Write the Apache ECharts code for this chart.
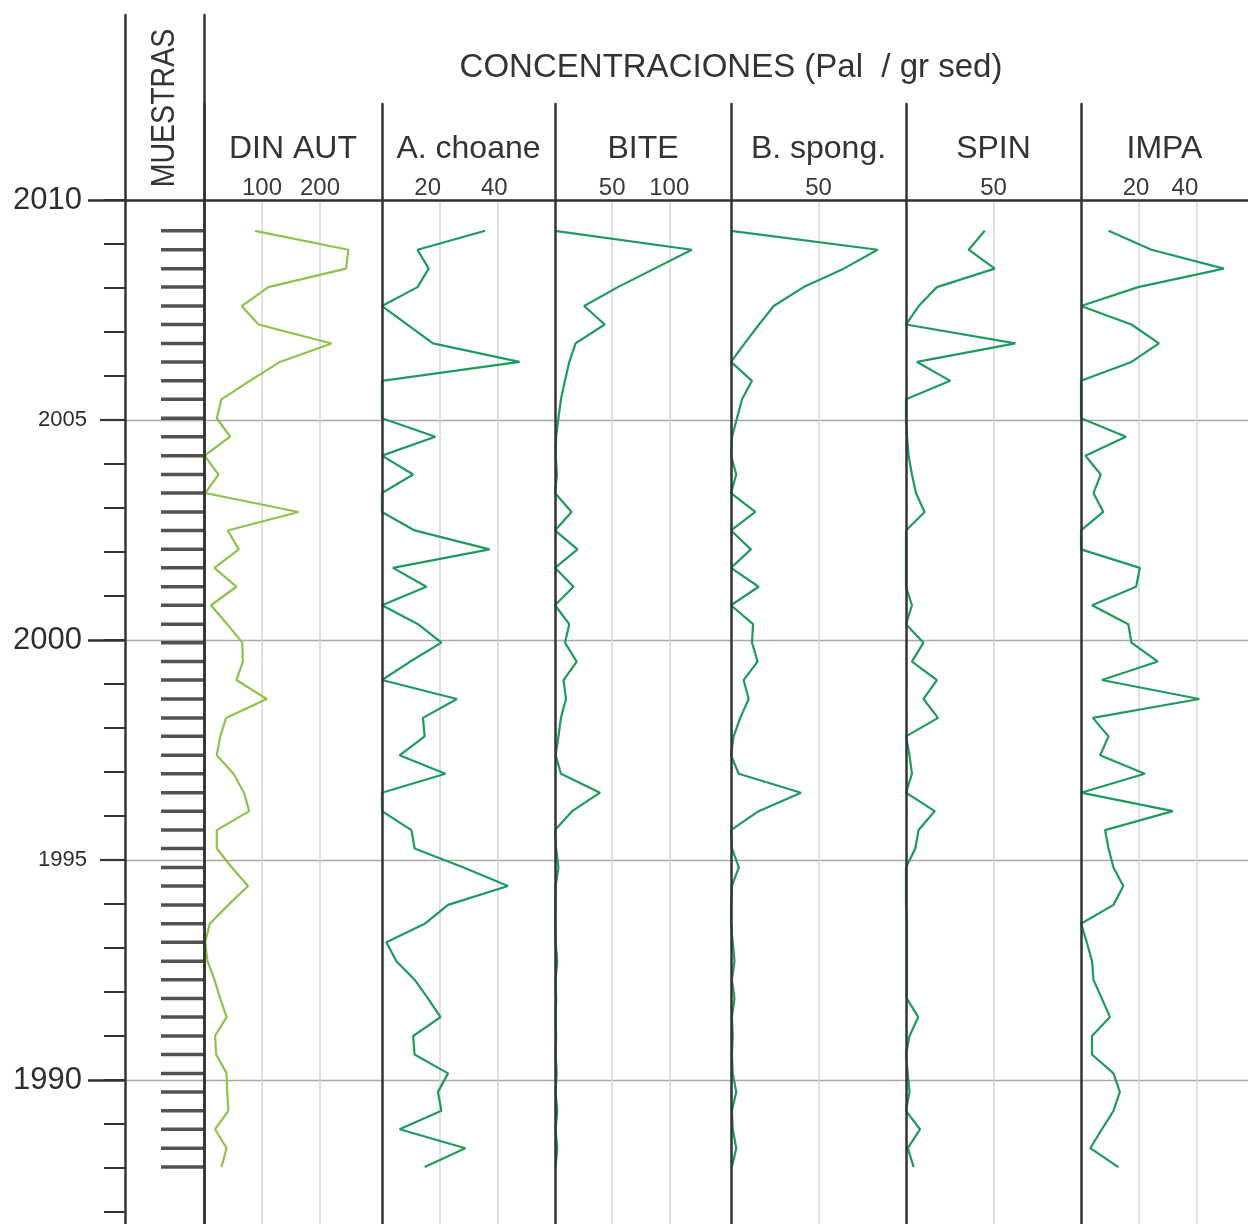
<!DOCTYPE html>
<html><head><meta charset="utf-8">
<script src="https://cdn.jsdelivr.net/npm/echarts@6/dist/echarts.min.js"></script>
<style>html,body{margin:0;padding:0;background:#fff}#c{width:1248px;height:1224px}</style>
</head><body><div id="c"></div>
<script>
// ---- data ----
const sampleYears = [2009.30, 2008.87, 2008.44, 2008.02, 2007.59, 2007.17, 2006.74, 2006.32, 2005.89, 2005.47,
  2005.04, 2004.62, 2004.19, 2003.76, 2003.34, 2002.91, 2002.49, 2002.06, 2001.64, 2001.21,
  2000.79, 2000.36, 1999.94, 1999.51, 1999.09, 1998.66, 1998.23, 1997.81, 1997.38, 1996.96,
  1996.53, 1996.11, 1995.68, 1995.26, 1994.83, 1994.41, 1993.98, 1993.55, 1993.13, 1992.70,
  1992.28, 1991.85, 1991.43, 1991.00, 1990.58, 1990.15, 1989.73, 1989.30, 1988.88, 1988.45,
  1988.02];
const dinAut = [88, 249, 245, 111, 65, 94, 220, 131, 79, 30,
  22, 45, 1, 25, 2, 163, 41, 60, 18, 56,
  12, 40, 66, 67, 56, 108, 38, 28, 22, 51,
  69, 78, 22, 22, 48, 76, 42, 10, 2, 6,
  18, 28, 39, 19, 21, 39, 40, 42, 19, 39,
  30];
const aChoane = [35.8, 12.3, 16.2, 12.3, 0, 8.8, 17.7, 47.7, 0, 0,
  0, 18.5, 0, 10.8, 0, 0, 11.3, 37.3, 3.8, 15.4,
  0, 12.5, 20.6, 9.8, 0, 26, 14.2, 14.8, 6.1, 22,
  0, 0, 10.2, 11.3, 28.3, 43.7, 22.9, 14.8, 1.5, 5,
  11.3, 16, 20.3, 10.8, 11.3, 22.9, 19.4, 20.6, 6.1, 28.9,
  14.8];
const bite = [0, 119.7, 87, 55, 25.5, 43.5, 18, 12.5, 8.7, 5.2,
  3, 1, 0.6, 1.7, 0, 14.5, 0, 19.7, 0, 16.2,
  0, 12.5, 8.7, 19, 7.5, 9.6, 5.2, 3, 0.6, 5.2,
  39.4, 15, 0, 1, 3, 0.5, 0.3, 0, 0.5, 2,
  0.5, 1, 0.5, 1, 0.5, 1.5, 0.5, 2, 0.5, 2,
  0.5];
const bSpong = [0, 83.8, 64.4, 41.5, 24.4, 16, 7.8, 0, 12, 6.3,
  3.4, 0.6, 0, 3, 0, 13.9, 0, 11.4, 0, 15.8,
  0, 12.6, 12, 15.2, 7.2, 10.1, 5.3, 1.5, 0, 4.4,
  40, 15.8, 0, 0.6, 4.5, 0.5, 0, 0, 1, 2,
  0.5, 2, 0.5, 1, 0.5, 1, 3, 0.5, 1, 3,
  0.5];
const spin = [45, 35.8, 50.7, 17.7, 7.2, 0, 62.5, 6.3, 25.3, 0,
  0, 0.6, 1.5, 3.4, 5.7, 10.6, 0, 0, 0, 0,
  3.4, 0, 10, 3.4, 17.7, 10, 18.3, 0, 2, 3.4,
  0, 16.4, 7.2, 5.3, 0, 0, 0, 0.5, 0.5, 0.5,
  0.5, 0.5, 7, 2, 0, 1, 2, 0, 8, 1,
  4.4];
const impa = [9.5, 24.3, 49.3, 19.7, 0, 17.4, 26.9, 17.4, 0, 0,
  0, 15.5, 1.5, 6.8, 4.3, 7.7, 0, 0, 20.3, 19,
  3.8, 16.3, 17.4, 26.5, 7.2, 40.8, 4.1, 9.5, 6.6, 22,
  0, 31.7, 8.3, 9.5, 11.2, 14.6, 11.2, 0, 2, 3.8,
  4.3, 7.2, 10, 3.8, 3.8, 11.2, 13.4, 11.2, 7.2, 3.2,
  12.9];
const panelNames = ['DIN AUT', 'A. choane', 'BITE', 'B. spong.', 'SPIN', 'IMPA'];
const panelTickLabels = [[100, 200], [20, 40], [50, 100], [50], [50], [20, 40]];
const yearTicksMinor = [1987, 1988, 1989, 1990, 1991, 1992, 1993, 1994, 1995, 1996, 1997, 1998,
  1999, 2000, 2001, 2002, 2003, 2004, 2005, 2006, 2007, 2008, 2009, 2010];
const yearLabelsMid = [1995, 2005];
const yearLabelsMajor = [1990, 2000, 2010];
const yearGridLines = [1990, 1995, 2000, 2005, 2010];
const headerText = 'CONCENTRACIONES (Pal  / gr sed)';
const samplesLabel = 'MUESTRAS';

// ---- layout ----
const panelSeries = [dinAut, aChoane, bite, bSpong, spin, impa];
const panelLeft = [204, 382, 555, 731, 906, 1081];
const panelRight = [382, 555, 731, 906, 1081, 1248];
const panelMax = [307, 60, 154, 100, 100, 57.6];
// leftward nudge (px) of individual scale labels, as placed in the reference
const labelNudge = [{}, {20: 24, 40: 6}, {}, {}, {}, {20: 6, 40: 24}];
const panelColor = ['#8cc34b', '#1f9a5e', '#1f9a5e', '#1f9a5e', '#1f9a5e', '#1f9a5e'];
const PX_YEAR = 44, Y2010 = 200, H = 1224;
const yearAtPx = px => 2010 + (Y2010 - px) / PX_YEAR;
const YMIN = yearAtPx(H);
const DARK = '#333333';
const FONT = '"Liberation Sans", Arial, sans-serif';

const grid = [], xAxis = [], yAxis = [], series = [];
const off = {show: false};

// 0: background year gridlines + 2010 line
grid.push({left: 125, top: 200, width: 1123, bottom: 0});
xAxis.push({gridIndex: 0, type: 'value', min: 0, max: 1, position: 'top',
  axisLine: {show: true, lineStyle: {color: DARK, width: 2.5}}, axisTick: off, axisLabel: off, splitLine: off});
yAxis.push({gridIndex: 0, type: 'value', min: YMIN, max: 2010,
  axisLine: off, axisTick: {show: false, customValues: yearGridLines}, axisLabel: off,
  splitLine: {show: true, lineStyle: {color: '#a8a8a8', width: 1.3}}});

// 1: MUESTRAS column with its two vertical lines
grid.push({left: 125, top: 15, width: 79, bottom: 0});
xAxis.push({gridIndex: 1, type: 'value', min: 0, max: 1, show: false});
yAxis.push({gridIndex: 1, type: 'value', min: YMIN, max: yearAtPx(15), position: 'left', z: 5,
  axisLine: {show: true, lineStyle: {color: DARK, width: 2.5}}, axisTick: off, axisLabel: off, splitLine: off});
yAxis.push({gridIndex: 1, type: 'value', min: YMIN, max: yearAtPx(15), position: 'right', z: 5,
  axisLine: {show: true, lineStyle: {color: DARK, width: 2.5}}, axisTick: off, axisLabel: off, splitLine: off});
series.push({type: 'scatter', xAxisIndex: 1, yAxisIndex: 1, clip: false, z: 4,
  symbol: 'rect', symbolSize: [43, 3.5], symbolOffset: [-21.5, 0],
  itemStyle: {color: '#2a2623'}, silent: true,
  data: sampleYears.map(y => [1, y])});

// 2-4: year ticks and labels on the left axis
const tickDefs = [
  {values: yearTicksMinor, len: 21, width: 2, labels: null},
  {values: yearLabelsMid, len: 25, width: 2.2, labels: yearLabelsMid, size: 22, margin: 38},
  {values: yearLabelsMajor, len: 37, width: 2.5, labels: yearLabelsMajor, size: 31, margin: 43}
];
tickDefs.forEach(d => {
  const gi = grid.length;
  grid.push({left: 125, top: 200, width: 79, bottom: 0});
  xAxis.push({gridIndex: gi, type: 'value', min: 0, max: 1, show: false});
  yAxis.push({gridIndex: gi, type: 'value', min: YMIN, max: 2010, position: 'left',
    axisLine: off, splitLine: off,
    axisTick: {show: true, customValues: d.values, length: d.len, lineStyle: {color: DARK, width: d.width}},
    axisLabel: d.labels ? {show: true, customValues: d.labels, margin: d.margin, fontSize: d.size,
      fontFamily: FONT, color: '#2e2e2e', formatter: v => String(Math.round(v))} : off});
});

// panels: P (data + separators, from y=104) and Q (scale labels, gridlines, titles, from y=200)
panelSeries.forEach((vals, k) => {
  const gi = grid.length;
  grid.push({left: panelLeft[k], top: 104, width: panelRight[k] - panelLeft[k], bottom: 0});
  xAxis.push({gridIndex: gi, type: 'value', min: 0, max: panelMax[k], show: false});
  yAxis.push({gridIndex: gi, type: 'value', min: YMIN, max: yearAtPx(104), z: 5,
    axisLine: {show: true, lineStyle: {color: DARK, width: 2.5}}, axisTick: off, axisLabel: off, splitLine: off});
  series.push({type: 'line', name: panelNames[k], xAxisIndex: xAxis.length - 1, yAxisIndex: yAxis.length - 1,
    symbol: 'none', z: 3, lineStyle: {color: panelColor[k], width: 2.2}, silent: true,
    data: vals.map((v, i) => [v, sampleYears[i]])});
});
panelSeries.forEach((vals, k) => {
  const gi = grid.length;
  const nudge = labelNudge[k];
  const rich = {};
  Object.keys(nudge).forEach(key => {
    rich['n' + key] = {fontSize: 24, fontFamily: FONT, color: '#3a3a3a', padding: [0, nudge[key], 0, 0]};
  });
  grid.push({left: panelLeft[k], top: 200, width: panelRight[k] - panelLeft[k], bottom: 0});
  xAxis.push({gridIndex: gi, type: 'value', min: 0, max: panelMax[k], position: 'top',
    axisLine: off,
    axisTick: {show: false, customValues: panelTickLabels[k]},
    axisLabel: {show: true, customValues: panelTickLabels[k], margin: 0, fontSize: 24, fontFamily: FONT, color: '#3a3a3a',
      rich: rich,
      formatter: v => nudge[v] ? '{n' + v + '|' + v + '}' : String(v)},
    splitLine: {show: true, lineStyle: {color: '#d6d6d6', width: 1.5}},
    name: panelNames[k], nameLocation: 'middle', nameGap: 35,
    nameTextStyle: {fontSize: 32, fontFamily: FONT, color: '#333'}});
  yAxis.push({gridIndex: gi, type: 'value', min: YMIN, max: 2010, show: false});
});

const chart = echarts.init(document.getElementById('c'), null, {renderer: 'canvas'});
chart.setOption({
  animation: false,
  backgroundColor: '#ffffff',
  grid, xAxis, yAxis, series,
  graphic: [
    {type: 'text', x: 731, y: 68, silent: true,
      style: {text: headerText, fill: '#333', font: '33px ' + FONT, fontSize: 33, fontFamily: FONT,
        align: 'center', verticalAlign: 'middle', textAlign: 'center', textVerticalAlign: 'middle'}},
    {type: 'text', x: 165, y: 108, rotation: Math.PI / 2, scaleX: 0.84, silent: true,
      style: {text: samplesLabel, fill: '#333', font: '34px ' + FONT, fontSize: 34, fontFamily: FONT,
        align: 'center', verticalAlign: 'middle', textAlign: 'center', textVerticalAlign: 'middle'}}
  ]
});
</script>
</body></html>
